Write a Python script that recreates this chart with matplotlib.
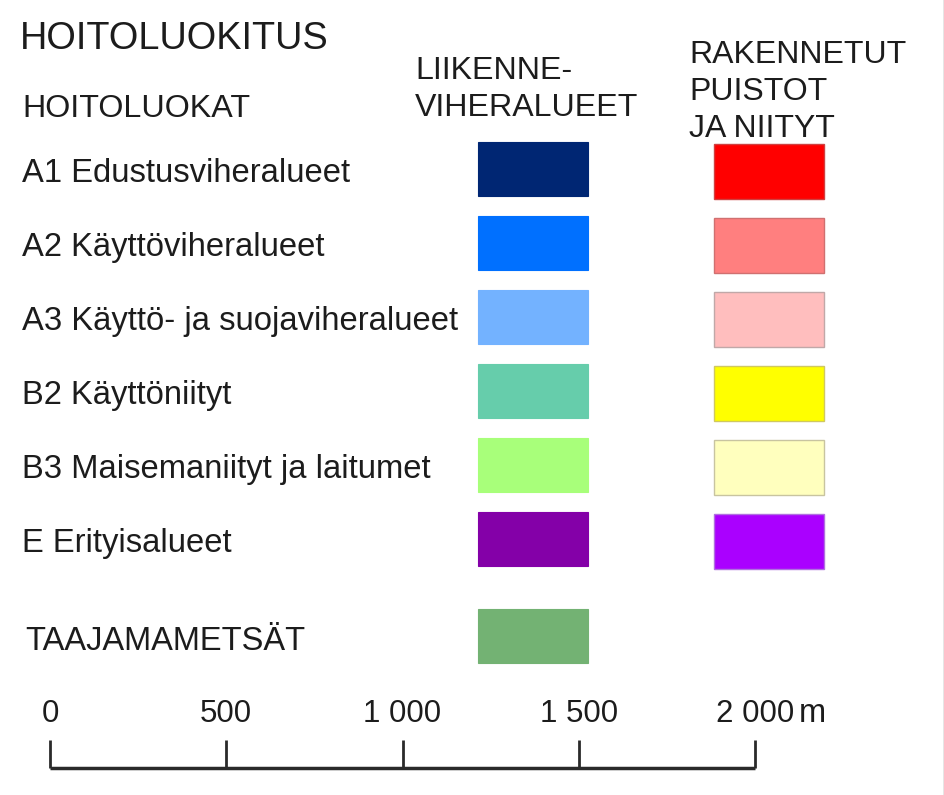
"""
Hoitoluokitus legend: maintenance classes with colour swatches and a scale bar.
"""

import matplotlib
matplotlib.use('Agg')
import matplotlib.pyplot as plt
from matplotlib.patches import Rectangle

plt.rcParams['font.family'] = ['Liberation Sans', 'DejaVu Sans']

# ── Data ─────────────────────────────────────────────────────
CLASS_LABELS = [
    'A1 Edustusviheralueet',
    'A2 Käyttöviheralueet',
    'A3 Käyttö- ja suojaviheralueet',
    'B2 Käyttöniityt',
    'B3 Maisemaniityt ja laitumet',
    'E Erityisalueet',
]
TRAFFIC_COLORS = ['#002673', '#0070ff', '#73b2ff', '#66cdab', '#a8ff7a', '#8400a8']
PARK_COLORS    = ['#ff0000', '#ff7f7f', '#ffbebe', '#ffff00', '#ffffbe', '#aa00ff']
PARK_EDGES     = ['#d04040', '#d07070', '#c0a8a8', '#d0c860', '#c8c4a0', '#b070e0']

FOREST_LABEL = 'TAAJAMAMETSÄT'
FOREST_COLOR = '#73b273'

TITLE       = 'HOITOLUOKITUS'
SUBTITLE    = 'HOITOLUOKAT'
COL1_HEADER = ['LIIKENNE-', 'VIHERALUEET']
COL2_HEADER = ['RAKENNETUT', 'PUISTOT', 'JA NIITYT']

SCALE_VALUES = [0, 500, 1000, 1500, 2000]
SCALE_UNIT   = 'm'

# ── Layout (pixels) ──────────────────────────────────────────
W, H = 945, 795
TXT = '#1c1c1c'
ROW0_BASE = 182          # baseline of first row label
ROW_STEP  = 74
BOX_H     = 54
COL1_X, COL2_X, BOX_W = 478, 714, 110

fig = plt.figure(figsize=(W / 100, H / 100), dpi=100)
ax = fig.add_axes([0, 0, 1, 1])
ax.set_xlim(0, W)
ax.set_ylim(H, 0)
ax.axis('off')

# headers
ax.text(20, 49, TITLE, fontsize=27.3, color=TXT, va='baseline')
ax.text(22, 117, SUBTITLE, fontsize=23.2, color=TXT, va='baseline')
for i, line in enumerate(COL1_HEADER):
    ax.text(415, 79 + 37 * i, line, fontsize=23.1, color=TXT, va='baseline')
for i, line in enumerate(COL2_HEADER):
    ax.text(689, 63 + 37 * i, line, fontsize=23, color=TXT, va='baseline')

# class rows
for i, label in enumerate(CLASS_LABELS):
    base = ROW0_BASE + ROW_STEP * i
    ax.text(22, base, label, fontsize=23.6, color=TXT, va='baseline')
    top = base - 40
    ax.add_patch(Rectangle((COL1_X, top), BOX_W, BOX_H,
                           facecolor=TRAFFIC_COLORS[i], edgecolor=TRAFFIC_COLORS[i],
                           linewidth=0.8))
    ax.add_patch(Rectangle((COL2_X, top + 2), BOX_W, BOX_H + 1,
                           facecolor=PARK_COLORS[i], edgecolor=PARK_EDGES[i],
                           linewidth=1.0))

# urban forest row
ax.text(25, 650, FOREST_LABEL, fontsize=23.5, color=TXT, va='baseline')
ax.add_patch(Rectangle((COL1_X, 609), BOX_W, BOX_H,
                       facecolor=FOREST_COLOR, edgecolor=FOREST_COLOR, linewidth=0.8))

# scale bar
x0, x1 = 50, 755
def sx(v):
    return x0 + (x1 - x0) * v / SCALE_VALUES[-1]

bar_y, tick_top = 768, 740
ax.plot([x0, x1], [bar_y, bar_y], color='#2a2a2a', lw=2.5, solid_capstyle='butt')
for v in SCALE_VALUES:
    ax.plot([sx(v), sx(v)], [tick_top, bar_y], color='#2a2a2a', lw=2.0,
            solid_capstyle='butt')
    lab = f'{v:,}'.replace(',', ' ')
    ax.text(sx(v), 722, lab, fontsize=22.5, color=TXT, ha='center', va='baseline')
ax.text(sx(SCALE_VALUES[-1]) + 44, 722, SCALE_UNIT, fontsize=23.5, color=TXT,
        ha='left', va='baseline')

# faint right border
ax.plot([944, 944], [0, H], color='#e2e2e2', lw=1.2)

fig.savefig('out.png', dpi=100, facecolor='white')
plt.close(fig)
